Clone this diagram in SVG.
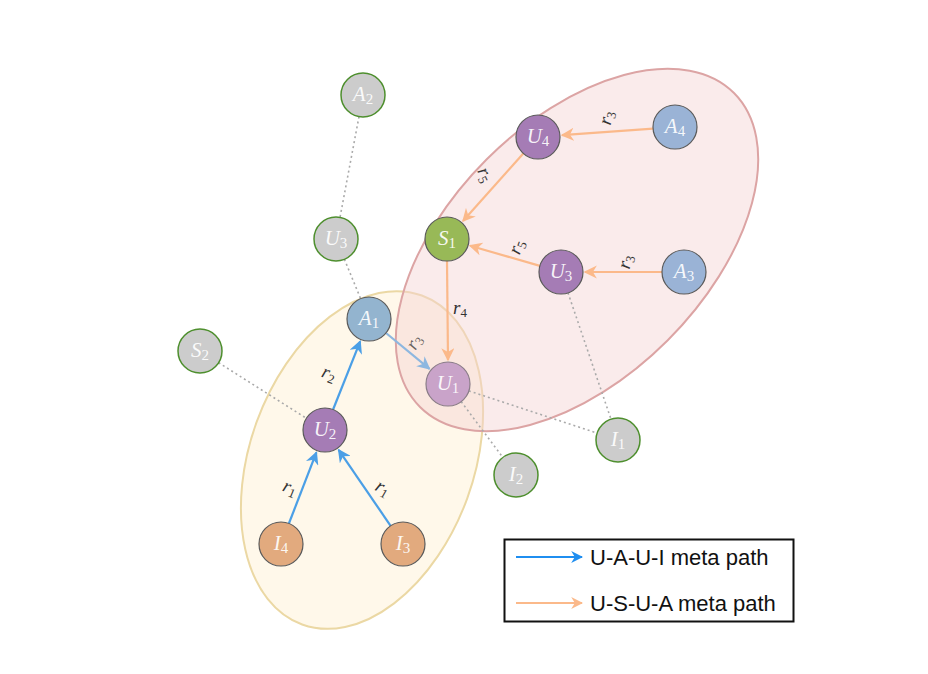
<svg xmlns="http://www.w3.org/2000/svg" width="928" height="674" viewBox="0 0 928 674">
<style>
.nd{stroke:#5a5a5a;stroke-width:1.2}
.gr{fill:#cccccc;stroke:#4e8f2e;stroke-width:1.5}
.pu{fill:#a57cb5}
.bl{fill:#9ab3d6}
.or{fill:#e2aa7e}
.nl{font-family:"Liberation Serif",serif;font-style:italic;font-size:21px;fill:#ffffff;fill-opacity:0.92;text-anchor:middle}
.sb{font-style:normal;font-size:15px}
.rl{font-family:"Liberation Serif",serif;font-style:italic;font-size:19px;fill:#333333;text-anchor:middle}
.rs{font-style:normal;font-size:13px}
.eb{stroke:#4b9fe6;stroke-width:2.2;fill:none;marker-end:url(#ab)}
.eo{stroke:#fbb98a;stroke-width:2.2;fill:none;marker-end:url(#ao)}
.dt{stroke:#aaaaaa;stroke-width:1.6;stroke-dasharray:2 3;fill:none}
.lg{font-family:"Liberation Sans",Arial,sans-serif;font-size:22px;fill:#111111}
</style>
<defs>
<marker id="ab" viewBox="0 0 10 10" refX="9" refY="5" markerWidth="6" markerHeight="6" markerUnits="strokeWidth" orient="auto"><path d="M0,0 L10,5 L0,10 L3,5 z" fill="#4b9fe6"/></marker>
<marker id="ab2" viewBox="0 0 10 10" refX="9" refY="5" markerWidth="6" markerHeight="6" markerUnits="strokeWidth" orient="auto"><path d="M0,0 L10,5 L0,10 L3,5 z" fill="#8db7e0"/></marker>
<marker id="ao" viewBox="0 0 10 10" refX="9" refY="5" markerWidth="6" markerHeight="6" markerUnits="strokeWidth" orient="auto"><path d="M0,0 L10,5 L0,10 L3,5 z" fill="#fbb98a"/></marker>
<marker id="al" viewBox="0 0 10 10" refX="9" refY="5" markerWidth="6" markerHeight="6" markerUnits="strokeWidth" orient="auto"><path d="M0,0 L10,5 L0,10 L3,5 z" fill="#1f8ef0"/></marker>
</defs>
<rect width="928" height="674" fill="#ffffff"/>
<g id="regions">
<ellipse cx="362" cy="460" rx="112" ry="175" transform="rotate(20 362 460)" fill="#fff7e8" fill-opacity="0.9" stroke="#ebd8a4" stroke-width="2"/>
<ellipse cx="577" cy="250" rx="222" ry="128" transform="rotate(-45 577 250)" fill="#f5d3d3" fill-opacity="0.45" stroke="#dca4a4" stroke-width="2"/>
</g>
<g id="connectors">
<line class="dt" x1="359" y1="116.6" x2="340" y2="217.4"/>
<line class="dt" x1="344.4" y1="259.3" x2="360.6" y2="298.6"/>
<line class="dt" x1="218.6" y1="362.7" x2="306.4" y2="418.3"/>
<line class="dt" x1="468.9" y1="390.9" x2="597.1" y2="433.1"/>
<line class="dt" x1="461.2" y1="401.6" x2="502.8" y2="457.4"/>
<line class="dt" x1="568" y1="292.8" x2="611" y2="419.2"/>
<line class="eb" x1="288.9" y1="523.5" x2="316.4" y2="452.4"/>
<line class="eb" x1="390.6" y1="525.8" x2="338.6" y2="449.8"/>
<line class="eb" x1="333.1" y1="409.5" x2="360.2" y2="341.3"/>
<line x1="386" y1="333" x2="429.5" y2="368.8" stroke="#8db7e0" stroke-width="2.2" marker-end="url(#ab2)"/>
<line class="eo" x1="653.1" y1="128.6" x2="562" y2="135.2"/>
<line class="eo" x1="523.3" y1="153.4" x2="463" y2="221.1"/>
<line class="eo" x1="539.9" y1="265.9" x2="470" y2="245.7"/>
<line class="eo" x1="662" y1="272" x2="585" y2="272"/>
<line class="eo" x1="447" y1="261" x2="448" y2="360"/>
</g>
<g id="edge-labels">
<text class="rl" transform="translate(612,119) rotate(-78)">r<tspan class="rs" dy="3">3</tspan></text>
<text class="rl" transform="translate(480,177) rotate(65)">r<tspan class="rs" dy="3">5</tspan></text>
<text class="rl" transform="translate(522,249) rotate(-70)">r<tspan class="rs" dy="3">5</tspan></text>
<text class="rl" transform="translate(631,263) rotate(-78)">r<tspan class="rs" dy="3">3</tspan></text>
<text class="rl" x="460" y="314">r<tspan class="rs" dy="3">4</tspan></text>
<text class="rl" transform="translate(419,345) rotate(-60)" fill-opacity="0.75">r<tspan class="rs" dy="3">3</tspan></text>
<text class="rl" transform="translate(327,379) rotate(20)">r<tspan class="rs" dy="3">2</tspan></text>
<text class="rl" transform="translate(288,493) rotate(22)">r<tspan class="rs" dy="3">1</tspan></text>
<text class="rl" transform="translate(380,493) rotate(30)">r<tspan class="rs" dy="3">1</tspan></text>
</g>
<g id="A2"><circle class="gr" cx="363" cy="95" r="22"/><text class="nl" x="363" y="101">A<tspan class="sb" dy="3">2</tspan></text></g>
<g id="U3g"><circle class="gr" cx="336" cy="239" r="22"/><text class="nl" x="336" y="245">U<tspan class="sb" dy="3">3</tspan></text></g>
<g id="S2"><circle class="gr" cx="200" cy="351" r="22"/><text class="nl" x="200" y="357">S<tspan class="sb" dy="3">2</tspan></text></g>
<g id="I2"><circle class="gr" cx="516" cy="475" r="22"/><text class="nl" x="516" y="481">I<tspan class="sb" dy="3">2</tspan></text></g>
<g id="I1"><circle class="gr" cx="618" cy="440" r="22"/><text class="nl" x="618" y="446">I<tspan class="sb" dy="3">1</tspan></text></g>
<g id="A1"><circle class="nd" cx="369" cy="319" r="22" fill="#93b4cf"/><text class="nl" x="369" y="325">A<tspan class="sb" dy="3">1</tspan></text></g>
<g id="U2"><circle class="nd pu" cx="325" cy="430" r="22"/><text class="nl" x="325" y="436">U<tspan class="sb" dy="3">2</tspan></text></g>
<g id="I4"><circle class="nd or" cx="281" cy="544" r="22"/><text class="nl" x="281" y="550">I<tspan class="sb" dy="3">4</tspan></text></g>
<g id="I3"><circle class="nd or" cx="403" cy="544" r="22"/><text class="nl" x="403" y="550">I<tspan class="sb" dy="3">3</tspan></text></g>
<g id="U1"><circle cx="448" cy="384" r="22" fill="#c9a3c9" stroke="#8a7c88" stroke-width="1.2"/><text class="nl" x="448" y="390" fill-opacity="0.8">U<tspan class="sb" dy="3">1</tspan></text></g>
<g id="U4"><circle class="nd pu" cx="538" cy="137" r="22"/><text class="nl" x="538" y="143">U<tspan class="sb" dy="3">4</tspan></text></g>
<g id="A4"><circle class="nd bl" cx="675" cy="127" r="22"/><text class="nl" x="675" y="133">A<tspan class="sb" dy="3">4</tspan></text></g>
<g id="S1"><circle class="nd" cx="447" cy="239" r="22" fill="#98b957"/><text class="nl" x="447" y="245">S<tspan class="sb" dy="3">1</tspan></text></g>
<g id="U3"><circle class="nd pu" cx="561" cy="272" r="22"/><text class="nl" x="561" y="278">U<tspan class="sb" dy="3">3</tspan></text></g>
<g id="A3"><circle class="nd bl" cx="684" cy="272" r="22"/><text class="nl" x="684" y="278">A<tspan class="sb" dy="3">3</tspan></text></g>
<g id="legend">
<rect x="504.5" y="539.5" width="289" height="82" fill="#ffffff" stroke="#111111" stroke-width="2"/>
<line x1="516" y1="557" x2="582" y2="557" stroke="#1f8ef0" stroke-width="2" marker-end="url(#al)"/>
<text class="lg" x="590" y="565">U-A-U-I meta path</text>
<line x1="516" y1="603" x2="582" y2="603" stroke="#fbb98a" stroke-width="2" marker-end="url(#ao)"/>
<text class="lg" x="590" y="611">U-S-U-A meta path</text>
</g>
</svg>
